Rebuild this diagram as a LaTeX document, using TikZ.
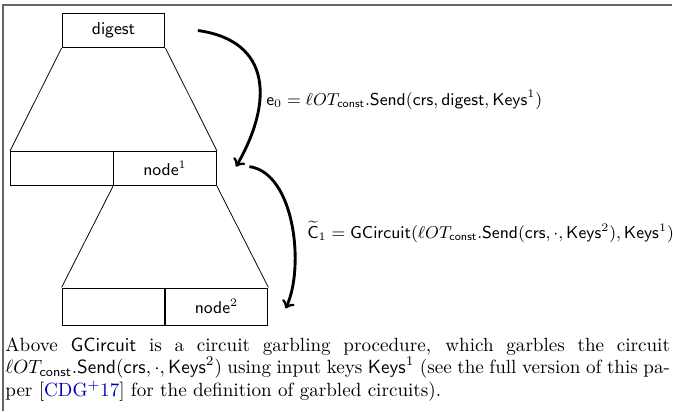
\documentclass[tikz,border=0pt]{standalone}
\usepackage{amsmath, amssymb}
\usepackage{tikz}
\usepackage{xcolor}

\begin{document}
\begin{tikzpicture}[x=0.5236pt, y=-0.5236pt,
    cell/.style={draw, minimum width=53.9pt, minimum height=18pt, inner sep=0pt, line width=0.5pt, font=\small},
    flow/.style={->, line width=1.5pt},
    tag/.style={anchor=west, inner sep=0pt, font=\small}]
  \useasboundingbox (0,0) rectangle (673,411);
  \draw[black!60, line width=1.1pt] (3,411) -- (3,5) -- (672,5);

  \node[cell] (digest) at (113.5,30.5) {$\mathsf{digest}$};
  \node[cell] (lvlone-l) at (62,168.5) {};
  \node[cell] (lvlone-r) at (165,168.5) {$\mathsf{node}^1$};
  \node[cell, minimum height=19.4pt] (lvltwo-l) at (113.5,306.5) {};
  \node[cell, minimum height=19.4pt] (lvltwo-r) at (216.5,306.5) {$\mathsf{node}^2$};

  \draw (digest.south west) -- (lvlone-l.north west);
  \draw (digest.south east) -- (lvlone-r.north east);
  \draw (lvlone-r.south west) -- (lvltwo-l.north west);
  \draw (lvlone-r.south east) -- (lvltwo-r.north east);

  \draw[flow] ([xshift=17pt]digest.east) to[out=-8, in=60, looseness=1.35] ([xshift=10pt, yshift=1pt]lvlone-r.east);
  \draw[flow] ([xshift=17pt, yshift=1pt]lvlone-r.east) to[out=-8, in=65, looseness=0.8] ([xshift=9pt, yshift=-1pt]lvltwo-r.east);

  \node[tag] (label-e) at (266,100)
    {$\mathsf{e}_0 = \ell OT_{\mathsf{const}}.\mathsf{Send}(\mathsf{crs},\mathsf{digest},\mathsf{Keys}^1)$};
  \node[tag] (label-c) at (307,232)
    {$\widetilde{\mathsf{C}}_1 = \mathsf{GCircuit}(\ell OT_{\mathsf{const}}.\mathsf{Send}(\mathsf{crs},\cdot,\mathsf{Keys}^2),\mathsf{Keys}^1)$};

  \node[anchor=north west, inner sep=0pt, align=left] (caption) at (5,337)
    {\makebox[348pt][s]{Above $\mathsf{GCircuit}$ is a circuit garbling procedure, which garbles the circuit}\\
     \makebox[348pt][s]{$\ell OT_{\mathsf{const}}.\mathsf{Send}(\mathsf{crs},\cdot,\mathsf{Keys}^2)$ using input keys $\mathsf{Keys}^1$ (see the full version of this pa-}\\
     per [{\color{blue!70!black}CDG$^+$17}] for the definition of garbled circuits).};
\end{tikzpicture}
\end{document}
